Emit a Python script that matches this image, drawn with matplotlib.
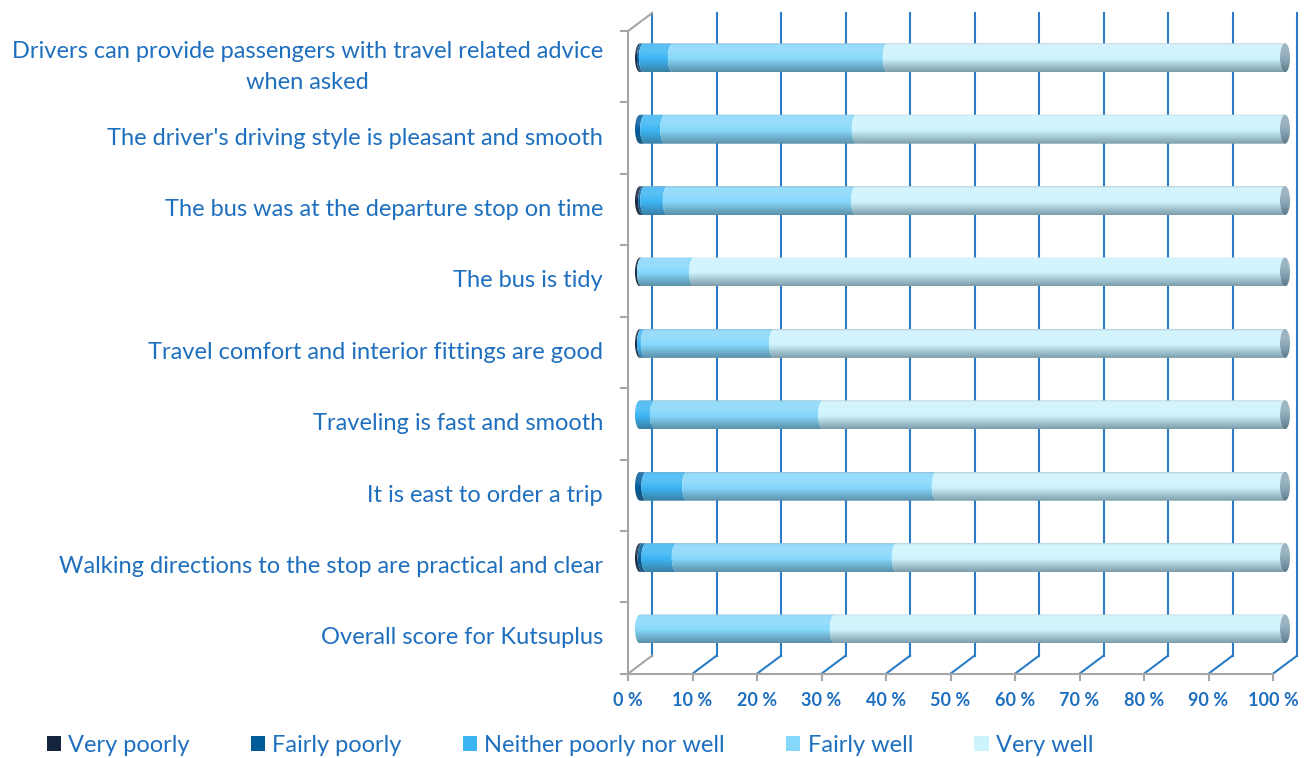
import numpy as np
import matplotlib.pyplot as plt
from matplotlib.patches import Polygon, Patch, Ellipse
from matplotlib.colors import to_rgb

plt.rcParams['font.family'] = ['Lato', 'DejaVu Sans']

# survey statements, bottom to top
categories = [
    "Overall score for Kutsuplus",
    "Walking directions to the stop are practical and clear",
    "It is east to order a trip",
    "Traveling is fast and smooth",
    "Travel comfort and interior fittings are good",
    "The bus is tidy",
    "The bus was at the departure stop on time",
    "The driver's driving style is pleasant and smooth",
    "Drivers can provide passengers with travel related advice\nwhen asked",
]

# answer shares in percent, same order as categories
very_poorly = [0.0, 0.4, 0.0, 0.0, 0.3, 0.3, 0.5, 0.0, 0.3]
fairly_poorly = [0.0, 0.6, 1.0, 0.0, 0.0, 0.0, 0.3, 0.8, 0.3]
neither = [0.0, 4.7, 6.3, 2.3, 0.6, 0.0, 3.5, 3.1, 4.5]
fairly_well = [30.2, 34.1, 38.7, 26.1, 19.9, 8.1, 29.2, 29.7, 33.3]
very_well = [69.8, 60.2, 54.0, 71.6, 79.2, 91.6, 66.5, 66.4, 61.6]

series_names = ["Very poorly", "Fairly poorly", "Neither poorly nor well",
                "Fairly well", "Very well"]
series = [very_poorly, fairly_poorly, neither, fairly_well, very_well]
series_colors = ['#14243c', '#005b9a', '#3bb5f3', '#85d7fb', '#cdf3fd']

x_ticks = list(range(0, 101, 10))

text_c = '#1f6fbf'
grid_c = '#2b7cc6'
wall_c = '#a6a6a6'

W, H = 1315, 758
fig = plt.figure(figsize=(W / 100, H / 100), dpi=100)
ax = fig.add_axes([0, 0, 1, 1])
ax.set_axis_off()

# bar plane: 0..100 % spans 640..1285 px, one category every 71.4 px
x0_px, x100_px = 640, 1285
ppx = (x100_px - x0_px) / 100
y0_px, ppy = 629, 71.4
xlim = (-x0_px / ppx, (W - x0_px) / ppx)
ylim = ((y0_px - H) / ppy, y0_px / ppy)

# half depth of the 3d box, front plane is shifted left/down, back plane right/up
DX, DY = 12 / ppx, 9 / ppy
n = len(categories)
ylo, yhi = -0.5, n - 0.5

# back wall and floor grid
for t in x_ticks:
    ax.plot([t + DX, t + DX], [ylo + DY, yhi + DY], color=grid_c, lw=1.5, zorder=1)
    ax.plot([t - DX, t + DX], [ylo - DY, ylo + DY],
            color=wall_c if t == 0 else grid_c, lw=1.5, zorder=1)
    ax.plot([t - DX, t - DX], [ylo - DY, ylo - DY - 6 / ppy], color=wall_c, lw=1.5, zorder=1)
    ax.text(t - DX, ylo - DY - 27 / ppy, f"{t} %", ha='center', va='center',
            color=text_c, fontsize=13, fontweight='bold')

# floor front edge and left wall
ax.plot([-DX, 100 - DX], [ylo - DY, ylo - DY], color=wall_c, lw=1.5, zorder=1)
ax.plot([-DX, -DX], [ylo - DY, yhi - DY], color=wall_c, lw=1.5, zorder=1)
ax.plot([-DX, DX], [yhi - DY, yhi + DY], color=wall_c, lw=1.5, zorder=1)
for b in np.arange(ylo, yhi + 0.01, 1.0):
    ax.plot([-DX - 7 / ppx, -DX], [b - DY, b - DY], color=wall_c, lw=1.5, zorder=1)

for i, label in enumerate(categories):
    ax.text(-DX - 25 / ppx, i - DY, label, ha='right', va='center',
            multialignment='center', linespacing=1.6, color=text_c, fontsize=17)


def shade(color, rows=90):
    # vertical light profile of a cylinder: grey rim, highlight, darker underside
    base = np.array(to_rgb(color))
    edge = base * 0.5 + np.array(to_rgb('#9aa8b0')) * 0.5
    light = base * 0.85 + 0.15
    dark = base * 0.45 + np.array(to_rgb('#3a5565')) * 0.55
    v = np.linspace(0, 1, rows)
    stops = [0, 0.06, 0.3, 0.55, 1.0]
    cols = [edge, light, light, base, dark]
    out = np.stack([np.interp(v, stops, [c[k] for c in cols]) for k in range(3)], axis=-1)
    return out[:, None, :]


rx = 5 / ppx
bh = 29 / ppy
v = np.linspace(0, 1, 60)
s = np.sqrt(np.clip(1 - (2 * v - 1) ** 2, 0, None))

for i in range(n):
    ys = i + bh / 2 - v * bh
    left = 0.0
    for vals, color in zip(series, series_colors):
        val = vals[i]
        if val <= 0:
            continue
        right = left + val
        outline = np.column_stack([np.r_[left - rx * s, (right - rx * s)[::-1]],
                                   np.r_[ys, ys[::-1]]])
        patch = Polygon(outline, closed=True, facecolor='none', edgecolor='none')
        ax.add_patch(patch)
        im = ax.imshow(shade(color), extent=(left - rx, right + rx, i - bh / 2, i + bh / 2),
                       aspect='auto', origin='upper', interpolation='bilinear', zorder=3)
        im.set_clip_path(patch)
        left = right
    # end face of the cylinder
    cap = Ellipse((left, i), 2 * rx, bh, facecolor='none', edgecolor='none')
    ax.add_patch(cap)
    im = ax.imshow(shade('#8aa8b8'), extent=(left - rx, left + rx, i - bh / 2, i + bh / 2),
                   aspect='auto', origin='upper', interpolation='bilinear', zorder=4)
    im.set_clip_path(cap)

ax.set_xlim(*xlim)
ax.set_ylim(*ylim)

handles = [Patch(facecolor=c, edgecolor='none') for c in series_colors]
fig.legend(handles, series_names, loc='center', bbox_to_anchor=(570 / W, 1 - 745 / H),
           ncol=5, frameon=False, fontsize=17, labelcolor=text_c,
           handlelength=0.6, handleheight=0.6, handletextpad=0.3, columnspacing=2.6)

fig.savefig('out.png', dpi=100)
